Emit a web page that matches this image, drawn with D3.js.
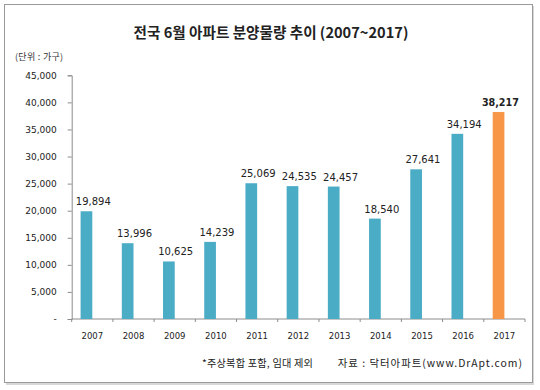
<!DOCTYPE html>
<html><head><meta charset="utf-8">
<script src="https://cdn.jsdelivr.net/npm/d3@7"></script>
<style>body{margin:0;background:#fff}svg{display:block}</style>
</head><body>
<svg id="c" width="540" height="390"></svg>
<script>
const years = ["2007","2008","2009","2010","2011","2012","2013","2014","2015","2016","2017"];
const values = [19894,13996,10625,14239,25069,24535,24457,18540,27641,34194,38217];
const yTicks = [0,5000,10000,15000,20000,25000,30000,35000,40000,45000];
const title = "전국 6월 아파트 분양물량 추이 (2007~2017)";
const unit = "(단위 : 가구)";
const note = "*주상복합 포함, 임대 제외";
const source = "자료 : 닥터아파트(www.DrApt.com)";

const svg = d3.select("#c");
const kr = "'Noto Sans CJK KR', sans-serif";
const num = "'DejaVu Sans', sans-serif";

// frame with slight shadow
svg.append("rect").attr("x",6).attr("y",6).attr("width",528).attr("height",379).attr("fill","#d8d8d8");
svg.append("rect").attr("x",4.5).attr("y",4.5).attr("width",528).attr("height",378)
  .attr("fill","#fff").attr("stroke","#9a9a9a").attr("stroke-width",1);

const x = d3.scaleBand().domain(years).range([71.7,525]).padding(0);
const y = d3.scaleLinear().domain([0,45000]).range([319,75.3]);
const bw = 11.7;

svg.append("text").attr("x",271).attr("y",38).attr("text-anchor","middle")
  .attr("font-family",kr).attr("font-weight","bold").attr("font-size",14.6).attr("fill","#222").text(title);
svg.append("text").attr("x",15).attr("y",60).attr("font-family",kr).attr("font-size",9)
  .attr("letter-spacing",0.3).attr("fill","#333").text(unit);

// y axis
const ya = d3.axisLeft(y).tickValues(yTicks).tickSize(4).tickPadding(11)
  .tickFormat(d => d === 0 ? "-" : d3.format(",")(d));
const gy = svg.append("g").attr("transform","translate(71.7,0)").call(ya);
gy.select(".domain").attr("stroke","#8c8c8c");
gy.selectAll(".tick line").attr("stroke","#8c8c8c");
gy.selectAll("text").attr("font-family",num).attr("font-size",9).attr("fill","#222");

// x axis
const gx = svg.append("g").attr("transform","translate(0,319)");
gx.append("line").attr("x1",71.7).attr("x2",525).attr("stroke","#8c8c8c");
gx.selectAll("line.tk").data(years.concat(["end"])).join("line").attr("class","tk")
  .attr("x1",(d,i)=>x.range()[0]+i*x.step()).attr("x2",(d,i)=>x.range()[0]+i*x.step())
  .attr("y1",0).attr("y2",3).attr("stroke","#8c8c8c");
gx.selectAll("text").data(years).join("text")
  .attr("x",d=>x(d)+x.bandwidth()/2).attr("y",20).attr("text-anchor","middle")
  .attr("font-family",num).attr("font-size",8.5).attr("fill","#222").text(d=>d);

// bars
svg.selectAll("rect.bar").data(values).join("rect").attr("class","bar")
  .attr("x",(d,i)=>x(years[i])+x.bandwidth()/2-bw)
  .attr("width",bw)
  .attr("y",d=>y(d)).attr("height",d=>y(0)-y(d))
  .attr("fill",(d,i)=> i===values.length-1 ? "#F79646" : "#4BACC6");

// labels
const last = values.length-1;
svg.selectAll("text.lbl").data(values).join("text").attr("class","lbl")
  .attr("x",(d,i)=>x(years[i])+x.bandwidth()/2+(i===last?-4:1)).attr("y",d=>y(d)-6)
  .attr("text-anchor","middle").attr("font-family",num).attr("font-size",(d,i)=>i===last?9.6:10)
  .attr("font-weight",(d,i)=> i===last ? "bold":"normal")
  .attr("fill","#222").text(d=>d3.format(",")(d));

svg.append("text").attr("x",202).attr("y",367).attr("font-family",kr).attr("font-size",10.2)
  .attr("letter-spacing",0.2).attr("fill","#222").text(note);
svg.append("text").attr("x",523).attr("y",367).attr("text-anchor","end").attr("font-family",kr).attr("font-size",10.4)
  .attr("letter-spacing",1.0).attr("fill","#222").text(source);
</script>
</body></html>
